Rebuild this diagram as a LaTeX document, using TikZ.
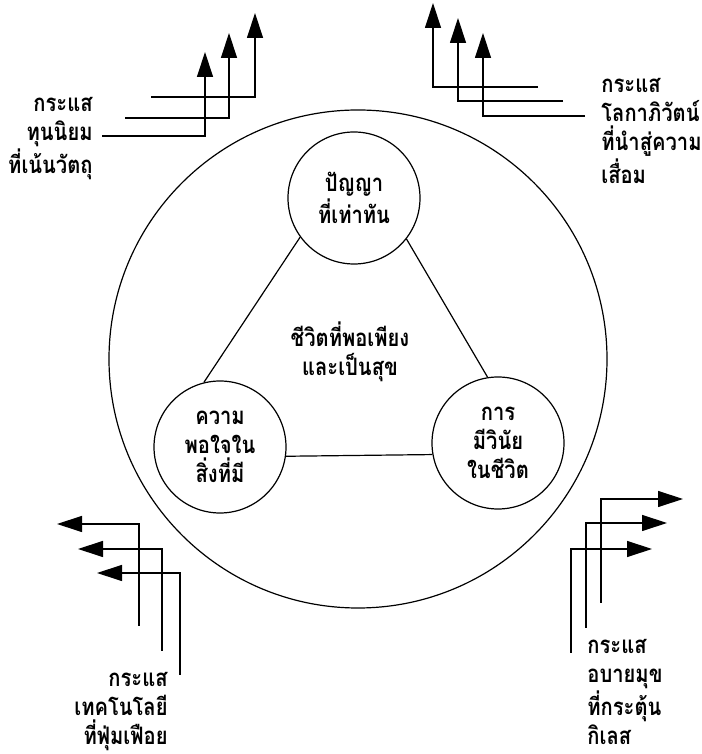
\documentclass[tikz,border=0pt]{standalone}
\usepackage{fontspec}
\newfontfamily\thaifont[Script=Thai,FakeStretch=0.84]{Loma}
\newcommand{\thaitext}{\thaifont\bfseries\fontsize{12}{14.5}\selectfont}
\usetikzlibrary{arrows.meta}
\tikzset{
    % Circle styles
    outer/.style={
        circle,
        draw,
        line width=0.6pt,
        minimum size=249pt,
        inner sep=0pt
    },
    idea/.style={
        circle,
        draw,
        line width=0.6pt,
        minimum size=66pt,
        inner sep=0pt,
        align=center,
        font=\thaitext
    },
    label/.style={
        inner sep=0pt,
        font=\thaitext
    },
    % Lines
    link/.style={
        line width=0.6pt
    },
    flow/.style={
        -{Triangle[length=12.5pt,width=8pt]},
        line width=0.6pt
    }
}

\begin{document}
\begin{tikzpicture}[x=0.5pt, y=0.5pt]
    \useasboundingbox (0,0) rectangle (701,754);

    \node[outer] (life) at (358,395) {};
    \node[label, align=center] (core) at (350,402) {ชีวิตที่พอเพียง\\และเป็นสุข};

    \node[idea] (wisdom) at (354,556) {ปัญญา\\ที่เท่าทัน};
    \node[idea] (content) at (220,307) {ความ\\พอใจใน\\สิ่งที่มี};
    \node[idea] (discipline) at (498,311) {การ\\มีวินัย\\ในชีวิต};

    \draw[link] (wisdom.216) -- (content.104);
    \draw[link] (wisdom.322) -- (discipline.99);
    \draw[link] (content.352) -- (discipline.190);

    % Top left
    \coordinate (cap1s) at (102,618);
    \coordinate (cap1e) at (205,702);
    \coordinate (cap2s) at (125,636);
    \coordinate (cap2e) at (229,721);
    \coordinate (cap3s) at (151,657);
    \coordinate (cap3e) at (255,741);
    \draw[flow] (cap1s) -| (cap1e);
    \draw[flow] (cap2s) -| (cap2e);
    \draw[flow] (cap3s) -| (cap3e);
    \node[label, align=right, anchor=east] (capital) at (93,615) {กระแส\\ทุนนิยม\\ที่เน้นวัตถุ};

    % Top right
    \coordinate (glob1s) at (538,667);
    \coordinate (glob1e) at (433,751);
    \coordinate (glob2s) at (563,653);
    \coordinate (glob2e) at (458,736);
    \coordinate (glob3s) at (585,638);
    \coordinate (glob3e) at (483,721);
    \draw[flow] (glob1s) -| (glob1e);
    \draw[flow] (glob2s) -| (glob2e);
    \draw[flow] (glob3s) -| (glob3e);
    \node[label, align=left, anchor=west] (global) at (601,623) {กระแส\\โลกาภิวัตน์\\ที่นำสู่ความ\\เสื่อม};

    % Bottom left
    \coordinate (tech1s) at (139,128);
    \coordinate (tech1e) at (57,230);
    \coordinate (tech2s) at (162,103);
    \coordinate (tech2e) at (78,205);
    \coordinate (tech3s) at (180,79);
    \coordinate (tech3e) at (97,181);
    \draw[flow] (tech1s) |- (tech1e);
    \draw[flow] (tech2s) |- (tech2e);
    \draw[flow] (tech3s) |- (tech3e);
    \node[label, align=right, anchor=east] (techno) at (168,42) {กระแส\\เทคโนโลยี\\ที่ฟุ่มเฟือย};

    % Bottom right
    \coordinate (vice1s) at (601,151);
    \coordinate (vice1e) at (683,255);
    \coordinate (vice2s) at (586,126);
    \coordinate (vice2e) at (667,231);
    \coordinate (vice3s) at (571,101);
    \coordinate (vice3e) at (652,205);
    \draw[flow] (vice1s) |- (vice1e);
    \draw[flow] (vice2s) |- (vice2e);
    \draw[flow] (vice3s) |- (vice3e);
    \node[label, align=left, anchor=west] (vices) at (587,62) {กระแส\\อบายมุข\\ที่กระตุ้น\\กิเลส};
\end{tikzpicture}
\end{document}
